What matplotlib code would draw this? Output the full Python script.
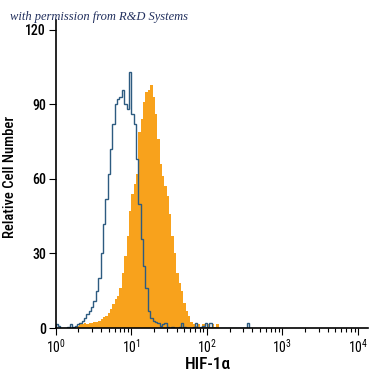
import numpy as np
import matplotlib
matplotlib.use("Agg")
import matplotlib.pyplot as plt
from matplotlib.ticker import LogLocator, LogFormatterMathtext, FixedLocator

# histogram channels: 32 per decade, counts
bins_per_decade = 32

isotype_counts = [
    1.5, 1, 0, 0, 0, 0.5, 1.5, 0.5, 1, 1.5,
    2, 3, 4, 5.5, 7, 8.5, 11, 15, 20, 30,
    42, 52, 62, 72, 82, 90, 92, 93, 96, 90,
    88, 103, 86, 82, 68, 50, 36, 25, 16, 7,
    4, 3, 2.5, 2, 1, 1.5, 2, 0.5, 0, 0.5,
    0, 0, 0.5, 2, 0.5, 0, 0, 0, 0.5, 2,
    0, 0.5, 1, 2, 0.5, 2, 0, 0, 0, 0,
    0, 0, 0, 0, 0, 0, 0, 0, 0, 0,
    0, 2, 0,
]

hif_counts = [
    0, 0, 0, 0, 0, 0, 0, 0, 0, 1,
    2, 1.5, 2, 1.5, 2, 2, 2.5, 2.5, 3, 3.5,
    4.5, 5, 6, 7.5, 9.5, 11.5, 13, 16, 22, 29,
    37, 47, 54, 58, 62, 79, 84, 91, 95, 96,
    98, 93, 86, 76, 66, 61, 57, 53, 46, 37,
    30, 22, 18, 15, 10, 7, 5, 2.5, 1.5, 1,
    1.5, 0.5, 1.5, 0.5, 1.5, 0.5, 1.5, 0.5, 1.5, 0,
]

y_ticks = [0, 30, 60, 90, 120]
x_label = "HIF-1\u03b1"
y_label = "Relative Cell Number"
credit = "with permission from R&D Systems"

font_list = ["Roboto Condensed", "Roboto", "DejaVu Sans"]
plt.rcParams["font.family"] = font_list
plt.rcParams["mathtext.fontset"] = "custom"
plt.rcParams["mathtext.rm"] = "Roboto"
plt.rcParams["mathtext.bf"] = "Roboto:bold"

fig = plt.figure(figsize=(3.75, 3.75), dpi=100)
ax = fig.add_axes([0.1485, 0.1253, 0.8325, 0.8214])

edges_iso = 10 ** (np.arange(len(isotype_counts) + 1) / bins_per_decade)
edges_hif = 10 ** (np.arange(len(hif_counts) + 1) / bins_per_decade)

ax.stairs(hif_counts, edges_hif, fill=True, color="#f8a21c", lw=0)
ax.stairs(isotype_counts, edges_iso, color="#2d5b80", lw=1.0)

ax.set_xscale("log")
ax.set_xlim(1, 10 ** 4.13)
ax.set_ylim(0, 124)

ax.xaxis.set_major_locator(FixedLocator([1, 10, 100, 1000, 10000]))
ax.xaxis.set_major_formatter(LogFormatterMathtext())
ax.xaxis.set_minor_locator(LogLocator(base=10, subs=np.arange(2, 10), numticks=20))
ax.set_yticks(y_ticks)

for s in ["top", "right"]:
    ax.spines[s].set_visible(False)
for s in ["left", "bottom"]:
    ax.spines[s].set_linewidth(1.2)
    ax.spines[s].set_color("black")

ax.tick_params(axis="both", which="major", direction="out", length=5, width=0.8,
               labelsize=10, pad=2)
ax.tick_params(axis="x", which="minor", direction="out", length=3, width=0.8)

for lab in ax.get_yticklabels():
    lab.set_fontweight("medium")

ax.set_xlabel(x_label, fontsize=12.5, fontweight="medium")
ax.xaxis.set_label_coords(0.488, -0.095)
ax.set_ylabel(y_label, fontsize=10.5, fontweight="medium")
ax.yaxis.set_label_coords(-0.125, 0.49)

fig.text(0.027, 0.955, credit, fontsize=9, style="italic",
         family=["Liberation Serif", "DejaVu Serif"], color="#22305e",
         ha="left", va="center")

fig.savefig("out.png", dpi=100)
